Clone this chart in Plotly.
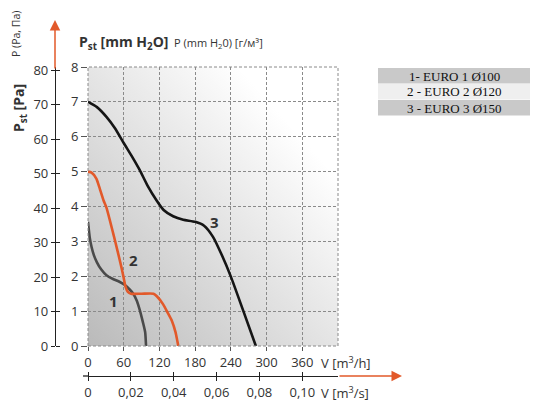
import base64
import plotly.graph_objects as go

# page has an 8px body margin; figure is sized to fit the 538x413 window
OFF = 8
W, H = 538 - 2 * OFF, 413 - 2 * OFF

# --- Data ---
flow_1 = [0, 3, 6, 10, 15, 22, 31, 42, 52, 62, 70, 76, 82, 87, 92, 96, 97.5]
pres_1 = [3.56, 3.1, 2.84, 2.6, 2.4, 2.2, 2.03, 1.92, 1.85, 1.75, 1.62, 1.5, 1.3, 1.03, 0.7, 0.4, 0]

flow_2 = [0, 6, 14, 20, 26, 31, 42, 50, 56, 60, 63, 67, 72, 90, 110, 116, 126, 134, 141, 147, 150, 151.7]
pres_2 = [5.0, 4.97, 4.8, 4.5, 4.18, 3.97, 3.25, 2.7, 2.27, 1.95, 1.7, 1.55, 1.5, 1.5, 1.5, 1.42, 1.2, 0.95, 0.72, 0.4, 0.15, 0]

flow_3 = [0, 15, 31, 45, 60, 75, 87, 100, 115, 127, 143, 160, 180, 195, 210, 225, 240, 260, 282]
pres_3 = [7.0, 6.85, 6.57, 6.25, 5.82, 5.4, 5.04, 4.6, 4.18, 3.9, 3.72, 3.62, 3.56, 3.45, 3.13, 2.6, 1.99, 1.05, 0]

curve_labels = ["1", "2", "3"]
label_pos = [(42, 1.3), (76, 2.48), (213, 3.56)]

legend_rows = ["1- EURO 1 Ø100", "2 - EURO 2 Ø120", "3 - EURO 3 Ø150"]

mmh_ticks = [0, 60, 120, 180, 240, 300, 360]
ms_ticks = [0, 0.02, 0.04, 0.06, 0.08, 0.10]
ms_text = ["0", "0,02", "0,04", "0,06", "0,08", "0,10"]
mm_ticks = [0, 1, 2, 3, 4, 5, 6, 7, 8]
pa_ticks = [0, 10, 20, 30, 40, 50, 60, 70, 80]

ORANGE = "#e2592a"
GRID = "#8a8a8a"
TXT = "#333333"
FONT = "Open Sans"


def px(x):
    return (x - OFF) / W


def py(y):
    return 1 - (y - OFF) / H


# plot box in window pixels
L, R, T, B = 88, 338, 67, 346

fig = go.Figure()

for fx, fy, col in [(flow_1, pres_1, "#4a4a4a"), (flow_2, pres_2, ORANGE), (flow_3, pres_3, "#151515")]:
    fig.add_trace(go.Scatter(
        x=fx, y=fy, mode="lines",
        line=dict(color=col, width=2.6, shape="spline", smoothing=0.6),
        showlegend=False, hoverinfo="skip",
    ))

# empty traces so the extra scales (Pa, m3/s) get drawn
for xa, ya in [("x", "y2"), ("x", "y3"), ("x2", "y"), ("x3", "y")]:
    fig.add_trace(go.Scatter(x=[], y=[], xaxis=xa, yaxis=ya, mode="lines",
                             showlegend=False, hoverinfo="skip"))

# --- background gradient ---
svg = (
    "<svg xmlns='http://www.w3.org/2000/svg' width='250' height='279' preserveAspectRatio='none'>"
    "<defs><linearGradient id='g' x1='0' y1='1' x2='1' y2='0'>"
    "<stop offset='0' stop-color='#bababa'/><stop offset='0.8' stop-color='#ffffff'/>"
    "</linearGradient></defs><rect width='250' height='279' fill='url(#g)'/></svg>"
)
fig.add_layout_image(
    source="data:image/svg+xml;base64," + base64.b64encode(svg.encode()).decode(),
    xref="paper", yref="paper", x=px(L), y=py(T),
    sizex=px(R) - px(L), sizey=py(T) - py(B),
    sizing="stretch", layer="below",
)

# dashed border of the plot box
fig.add_shape(type="rect", xref="paper", yref="paper",
              x0=px(L), x1=px(R), y0=py(B), y1=py(T),
              line=dict(color=GRID, width=1, dash="3px,2px"))

# curve numbers
for txt, (lx, ly) in zip(curve_labels, label_pos):
    fig.add_annotation(x=lx, y=ly, xref="x", yref="y", text=f"<b>{txt}</b>",
                       xanchor="center", yanchor="middle",
                       showarrow=False, font=dict(family=FONT, size=15, color=TXT))

# arrows at the ends of the outer axes
fig.add_annotation(x=px(55), y=py(20), xref="paper", yref="paper",
                   ax=0, ay=50, axref="pixel", ayref="pixel",
                   text="", showarrow=True, arrowhead=2, arrowsize=1.4,
                   arrowwidth=1.5, arrowcolor=ORANGE)
fig.add_annotation(x=px(402), y=py(376), xref="paper", yref="paper",
                   ax=-64, ay=0, axref="pixel", ayref="pixel",
                   text="", showarrow=True, arrowhead=2, arrowsize=1.4,
                   arrowwidth=1.5, arrowcolor=ORANGE)
fig.add_shape(type="line", xref="paper", yref="paper",
              x0=px(83), x1=px(L), y0=py(376), y1=py(376),
              line=dict(color="#222", width=1.3))


def label(x, y, text, size, anchor="left", angle=0, family=FONT, color=TXT):
    fig.add_annotation(x=px(x), y=py(y), xref="paper", yref="paper",
                       xanchor=anchor, yanchor="middle", textangle=angle,
                       text=text, showarrow=False,
                       font=dict(family=family, size=size, color=color))


# axis titles
label(77, 42, "<b>P<sub>st</sub> [mm H<sub>2</sub>O]</b>", 14)
label(172, 43, "P (mm H<sub>2</sub>0) [г/м³]", 11)
label(19, 108, "<b>P<sub>st</sub> [Pa]</b>", 14, anchor="center", angle=-90)
label(16, 34, "P (Pa, Па)", 10.5, anchor="center", angle=-90)
label(319, 362, "V [m<sup>3</sup>/h]", 13)
label(319, 392, "V [m<sup>3</sup>/s]", 13)

# legend table
row_fill = ["#c9c9c9", "#efefef", "#c9c9c9"]
row_top = [68, 84, 100]
for txt, fill, top in zip(legend_rows, row_fill, row_top):
    fig.add_shape(type="rect", xref="paper", yref="paper",
                  x0=px(378), x1=px(530), y0=py(top + 15.5), y1=py(top),
                  fillcolor=fill, line=dict(width=0))
    label(454, top + 8, txt, 13, anchor="center", family="Liberation Serif", color="#111")

tickfont = dict(family=FONT, size=13, color=TXT)

fig.update_layout(
    width=W, height=H, autosize=False,
    margin=dict(l=0, r=0, t=0, b=0, pad=0, autoexpand=False),
    paper_bgcolor="white", plot_bgcolor="rgba(0,0,0,0)",
    showlegend=False,
    xaxis=dict(domain=[px(L), px(R)], range=[0, 420], tickvals=mmh_ticks,
               showgrid=True, gridcolor=GRID, griddash="3px,2px", gridwidth=1,
               zeroline=False, showline=False, ticks="outside", ticklen=4,
               tickcolor="#555", tickfont=tickfont, automargin=False),
    yaxis=dict(domain=[py(B), py(T)], range=[0, 8], tickvals=mm_ticks,
               showgrid=True, gridcolor=GRID, griddash="3px,2px", gridwidth=1,
               zeroline=False, showline=False, ticks="outside", ticklen=6,
               tickcolor="#555", tickfont=tickfont, automargin=False),
    yaxis2=dict(overlaying="y", anchor="free", position=px(55), side="left",
                range=[0, 81], tickvals=pa_ticks, showgrid=False, zeroline=False,
                showline=True, linecolor="#222", linewidth=1.3,
                ticks="outside", ticklen=4, tickcolor="#222", tickfont=tickfont,
                automargin=False),
    yaxis3=dict(overlaying="y", anchor="free", position=px(55), side="right",
                range=[0, 81], tickvals=pa_ticks, showgrid=False, zeroline=False,
                showline=False, showticklabels=False,
                ticks="outside", ticklen=4, tickcolor="#222", automargin=False),
    xaxis2=dict(overlaying="x", anchor="free", position=py(376), side="bottom",
                range=[0, 420 / 3600], tickvals=ms_ticks, ticktext=ms_text,
                showgrid=False, zeroline=False, showline=True, linecolor="#222",
                linewidth=1.3, ticks="outside", ticklen=4, tickcolor="#222",
                tickfont=tickfont, automargin=False),
    xaxis3=dict(overlaying="x", anchor="free", position=py(376), side="top",
                range=[0, 420 / 3600], tickvals=ms_ticks, showgrid=False,
                zeroline=False, showline=False, showticklabels=False,
                ticks="outside", ticklen=4, tickcolor="#222", automargin=False),
)

fig.write_html("out.html")
